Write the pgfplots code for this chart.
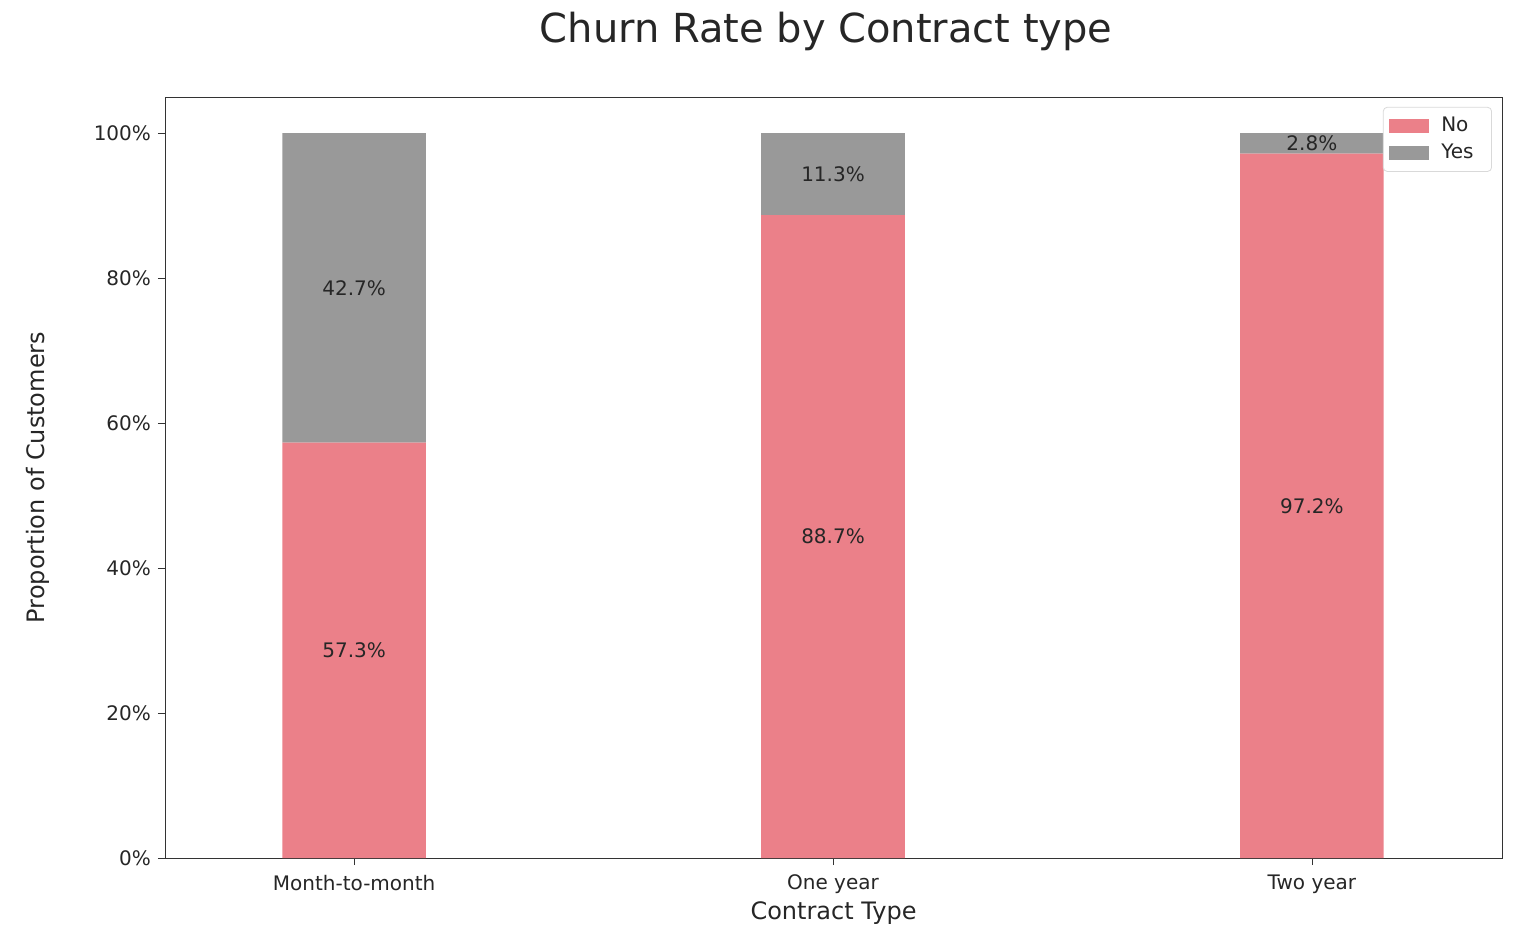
\documentclass[border=0pt]{standalone}
\usepackage{pgfplots}
\pgfplotsset{compat=1.18}
\usepackage{fontspec}
\setmainfont{DejaVu Sans}
\definecolor{nocol}{HTML}{EB8089}
\definecolor{yescol}{HTML}{999999}
\definecolor{txt}{HTML}{262626}
\begin{document}
\begin{tikzpicture}
\useasboundingbox (-82.5pt,-42.5pt) rectangle (683pt,429pt);
\pgfplotsset{common/.style={
  scale only axis, width=668.5pt, height=380.5pt,
  xmin=-0.395, xmax=2.397, ymin=0, ymax=105}}
\begin{axis}[common,
  ybar stacked, bar width=0.3,
  axis line style={black!80},
  tick align=outside, major tick length=3.5pt,
  tick style={black!80},
  xtick={0,1,2}, xticklabels={Month-to-month,One year,Two year},
  ytick={0,20,40,60,80,100},
  yticklabels={0\%,20\%,40\%,60\%,80\%,100\%},
  ticklabel style={font=\fontsize{10}{12}\selectfont, text=txt},
  xticklabel style={yshift=-1.5pt},
  xtick pos=bottom, ytick pos=left,
  xlabel={Contract Type}, ylabel={Proportion of Customers},
  label style={font=\fontsize{12}{14}\selectfont, text=txt},
  xlabel style={at={(axis description cs:0.5,-0.0723)}, anchor=center},
  ylabel style={at={(axis description cs:-0.095,0.5)}, anchor=center},
  title={Churn Rate by Contract type},
  title style={at={(axis description cs:0.4945,1.0697)}, anchor=center, font=\fontsize{20}{24}\selectfont, text=txt},
  every axis title/.append style={anchor=center},
  legend style={at={(0.9925,0.987)}, anchor=north east, draw=black!15, rounded corners=2pt,
    font=\fontsize{10}{12}\selectfont, text=txt, row sep=0.5pt, inner xsep=3pt, inner ysep=3pt,
    nodes={inner xsep=6pt}},
  legend image code/.code={\path[#1,draw=none,sharp corners] (2pt,-3.5pt) rectangle (22pt,3.5pt);},
  legend cell align=left,
]
\addplot[fill=nocol, draw=none] coordinates {(0,57.3) (1,88.7) (2,97.2)};
\addlegendentry{No}
\addplot[fill=yescol, draw=none] coordinates {(0,42.7) (1,11.3) (2,2.8)};
\addlegendentry{Yes}
\end{axis}
\begin{axis}[common, hide axis]
\addplot[only marks, mark=none, nodes near coords, point meta=explicit symbolic,
  every node near coord/.append style={anchor=center, font=\fontsize{10}{12}\selectfont, text=txt}]
  coordinates {(0,28.65) [57.3\%] (1,44.35) [88.7\%] (2,48.6) [97.2\%]
               (0,78.65) [42.7\%] (1,94.35) [11.3\%] (2,98.6) [2.8\%]};
\end{axis}
\end{tikzpicture}
\end{document}
